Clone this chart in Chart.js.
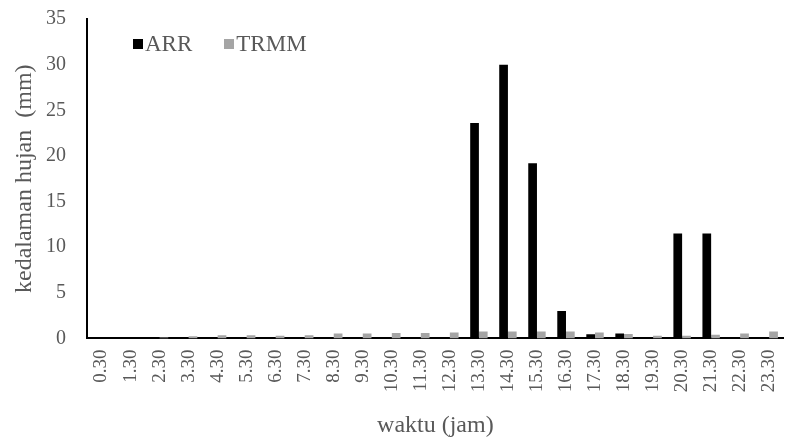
<!DOCTYPE html>
<html>
<head>
<meta charset="utf-8">
<script src="https://cdn.jsdelivr.net/npm/chart.js@4"></script>
<style>
  html, body { margin: 0; padding: 0; background: #fff; }
  #wrap { position: relative; width: 803px; height: 440px; }
  .legend { position: absolute; top: 31px; left: 133px; font-family: "Liberation Serif", serif; font-size: 23px; color: #595959; display: flex; }
  .legend span.item { display: flex; align-items: center; margin-right: 32px; }
  .legend span.sw { display: inline-block; width: 10px; height: 10px; margin-right: 2px; }
</style>
</head>
<body>
<div id="wrap">
  <canvas id="chart" width="803" height="440"></canvas>
  <div class="legend">
    <span class="item"><span class="sw" style="background:#000"></span>ARR</span>
    <span class="item"><span class="sw" style="background:#a5a5a5"></span>TRMM</span>
  </div>
</div>
<script>
'use strict';

const hours = ['0.30', '1.30', '2.30', '3.30', '4.30', '5.30', '6.30', '7.30', '8.30', '9.30', '10.30', '11.30',
  '12.30', '13.30', '14.30', '15.30', '16.30', '17.30', '18.30', '19.30', '20.30', '21.30', '22.30', '23.30'];

const arr = [0, 0, 0, 0, 0, 0, 0, 0, 0, 0, 0, 0,
  0, 23.6, 30.0, 19.2, 3.0, 0.45, 0.55, 0.15, 11.5, 11.5, 0, 0];

const trmm = [0, 0, 0.1, 0.25, 0.35, 0.35, 0.3, 0.35, 0.55, 0.55, 0.6, 0.6,
  0.65, 0.75, 0.75, 0.75, 0.75, 0.65, 0.5, 0.3, 0.3, 0.4, 0.55, 0.75];

const serif = '"Liberation Serif", "Times New Roman", serif';

new Chart(document.getElementById('chart').getContext('2d'), {
  type: 'bar',
  data: {
    labels: hours,
    datasets: [
      { label: 'ARR', data: arr, backgroundColor: '#000000', categoryPercentage: 0.6, barPercentage: 1.0 },
      { label: 'TRMM', data: trmm, backgroundColor: '#a5a5a5', categoryPercentage: 0.6, barPercentage: 1.0 },
    ],
  },
  options: {
    responsive: false,
    animation: false,
    layout: { padding: { left: 4, right: 0, top: 19, bottom: 0 } },
    plugins: {
      legend: { display: false },
      tooltip: { enabled: false },
    },
    scales: {
      x: {
        grid: { display: false, drawTicks: false },
        border: { display: true, color: '#000', width: 2 },
        ticks: { color: '#595959', font: { family: serif, size: 19 }, minRotation: 90, maxRotation: 90, autoSkip: false, padding: 11 },
        title: { display: true, text: 'waktu (jam)', color: '#595959', font: { family: serif, size: 24 }, padding: { top: 8, bottom: 0 } },
      },
      y: {
        min: 0,
        max: 35,
        grid: { display: false, drawTicks: false },
        border: { display: true, color: '#000', width: 2 },
        ticks: { stepSize: 5, color: '#595959', font: { family: serif, size: 20 }, padding: 21 },
        title: { display: true, text: 'kedalaman hujan  (mm)', color: '#595959', font: { family: serif, size: 24 }, padding: { top: 6, bottom: 8 } },
        afterFit: (scale) => {
          scale.width = 83;
          scale.paddingTop = 0;
          scale.paddingBottom = 0;
        },
      },
    },
  },
});
</script>
</body>
</html>
